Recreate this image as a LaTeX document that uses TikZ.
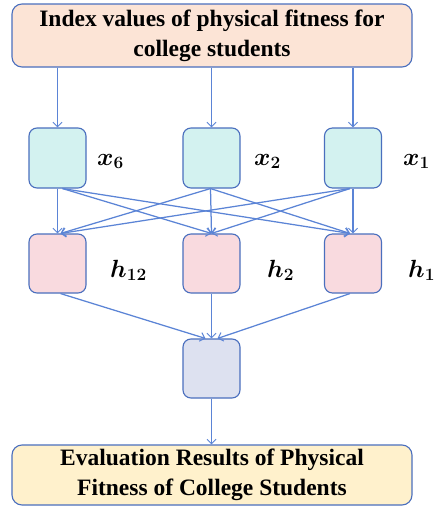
\documentclass[tikz,border=0pt]{standalone}
\usepackage{amsmath,bm}
\usepackage{fontspec}
\setmainfont{Liberation Serif}
\usetikzlibrary{arrows.meta,calc}
\definecolor{edgeblue}{HTML}{4A6FBE}
\definecolor{linkblue}{HTML}{5B84D6}
\definecolor{peach}{HTML}{FCE4D6}
\definecolor{cyanfill}{HTML}{D3F2F0}
\definecolor{pinkfill}{HTML}{F9DADF}
\definecolor{lavfill}{HTML}{DDE1F0}
\definecolor{creamfill}{HTML}{FFF1CC}
\tikzset{
  bigbox/.style={draw=edgeblue,line width=1.1pt,rounded corners=10pt,minimum width=400pt,align=center,inner sep=0pt,
     font=\fontsize{23.5}{30}\selectfont\bfseries},
  unitbox/.style={draw=edgeblue,line width=1.1pt,rounded corners=8pt,minimum width=57pt,minimum height=60pt,inner sep=0pt},
  lbl/.style={font=\fontsize{25}{28}\selectfont,inner sep=0pt},
  link/.style={draw=linkblue,line width=1.25pt,-{Straight Barb[length=4.5pt,width=9pt,line width=1pt]}}
}
\begin{document}
\begin{tikzpicture}[x=1pt,y=-1pt]
\fill[white] (0,0) rectangle (435,506);
\useasboundingbox (0,0) rectangle (435,506);
\node[bigbox,fill=peach,minimum height=63pt] (top) at (212,35.5) {Index values of physical fitness for\\college students};
\node[unitbox,fill=cyanfill] (x6) at (57.5,158) {};
\node[unitbox,fill=cyanfill] (x2) at (211.5,158) {};
\node[unitbox,fill=cyanfill] (x1) at (353,158) {};
\node[unitbox,fill=pinkfill,minimum height=59pt] (h12) at (57.5,263.5) {};
\node[unitbox,fill=pinkfill,minimum height=59pt] (h2) at (211.5,263.5) {};
\node[unitbox,fill=pinkfill,minimum height=59pt] (h1) at (353,263.5) {};
\node[unitbox,fill=lavfill,minimum height=59pt] (out) at (211.5,368.5) {};
\node[bigbox,fill=creamfill,minimum height=60pt] (bot) at (212,475) {Evaluation Results of Physical\\Fitness of College Students};
% labels
\node[lbl,anchor=base west] (lx6) at (97,165) {$\bm{x_6}$};
\node[lbl,anchor=base west] (lx2) at (254,165) {$\bm{x_2}$};
\node[lbl,anchor=base west] (lx1) at (403,165) {$\bm{x_1}$};
\node[lbl,anchor=base west] (lh12) at (110,277) {$\bm{h_{12}}$};
\node[lbl,anchor=base west] (lh2) at (267,277) {$\bm{h_2}$};
\node[lbl,anchor=base west] (lh1) at (408,277) {$\bm{h_1}$};
% top arrows
\draw[link] (top.south -| x6.north) -- (x6.north);
\draw[link] (top.south -| x2.north) -- (x2.north);
\draw[link] (top.south -| x1.north) -- (x1.north);
% sources / targets
\coordinate (s6) at ($(x6.south)+(5,0)$);
\coordinate (s2) at ($(x2.south)+(-1,0)$);
\coordinate (s1) at ($(x1.south)+(-3,0)$);
\coordinate (t12) at ($(h12.north)+(3,0)$);
\coordinate (t2) at (h2.north);
\coordinate (t1) at ($(h1.north)+(-3,0)$);
\draw[link] (x6.south) -- (h12.north);
\draw[link] (s6) -- (t2);
\draw[link] (s6) -- (t1);
\draw[link] (s2) -- (t12);
\draw[link] (s2) -- (t2);
\draw[link] (s2) -- (t1);
\draw[link] (s1) -- (t12);
\draw[link] (s1) -- (t2);
\draw[link] (x1.south) -- (h1.north);
% hidden to output
\draw[link] ($(h12.south)+(3,0)$) -- ($(out.north)+(-6,0)$);
\draw[link] (h2.south) -- (out.north);
\draw[link] ($(h1.south)+(-3,0)$) -- ($(out.north)+(6,0)$);
\draw[link] (out.south) -- (bot.north -| out.south);
\end{tikzpicture}
\end{document}
